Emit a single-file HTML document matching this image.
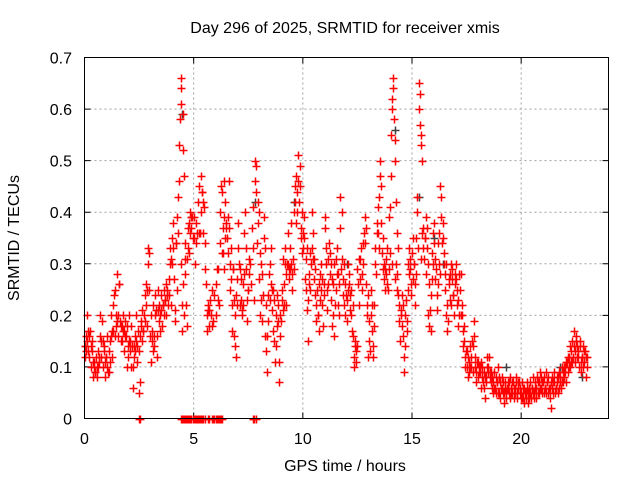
<!DOCTYPE html>
<html><head><meta charset="utf-8"><style>
body{margin:0;background:#fff;}
svg{display:block;font-family:"Liberation Sans",sans-serif;}
</style></head><body>
<svg id="chart" width="640" height="480" viewBox="0 0 640 480" xmlns="http://www.w3.org/2000/svg">
<text x="345" y="33" font-size="16" text-anchor="middle">Day 296 of 2025, SRMTID for receiver xmis</text>
<g id="grid"></g>
<g id="ticks"></g>
<g id="marks"></g>
<rect x="84.5" y="57.5" width="524" height="361" fill="none" stroke="#000" stroke-width="1"/>
<text x="345" y="471" font-size="16" text-anchor="middle">GPS time / hours</text>
<text transform="translate(19,238) rotate(-90)" font-size="16" text-anchor="middle">SRMTID / TECUs</text>
</svg>
<script>
const xTicks = [0, 5, 10, 15, 20];
const yTicks = [0, 0.1, 0.2, 0.3, 0.4, 0.5, 0.6, 0.7];
const yTickLabels = ["0", "0.1", "0.2", "0.3", "0.4", "0.5", "0.6", "0.7"];
const hours = [
0.0,0.1,0.2,0.3,0.4,0.5,0.6,0.7,0.8,0.9,
1.0,1.1,1.2,1.3,1.4,1.5,1.6,1.7,1.8,1.9,
2.0,2.1,2.2,2.3,2.4,2.5,2.6,2.7,2.8,2.9,
3.0,3.1,3.2,3.3,3.4,3.5,3.6,3.7,3.8,3.9,
4.0,4.1,4.2,4.3,4.4,4.5,4.6,4.7,4.8,4.9,
5.0,5.1,5.2,5.3,5.4,5.5,5.6,5.7,5.8,5.9,
6.0,6.1,6.2,6.3,6.4,6.5,6.6,6.7,6.8,6.9,
7.0,7.1,7.2,7.3,7.4,7.5,7.6,7.7,7.8,7.9,
8.0,8.1,8.2,8.3,8.4,8.5,8.6,8.7,8.8,8.9,
9.0,9.1,9.2,9.3,9.4,9.5,9.6,9.7,9.8,9.9,
10.0,10.1,10.2,10.3,10.4,10.5,10.6,10.7,10.8,10.9,
11.0,11.1,11.2,11.3,11.4,11.5,11.6,11.7,11.8,11.9,
12.0,12.1,12.2,12.3,12.4,12.5,12.6,12.7,12.8,12.9,
13.0,13.1,13.2,13.3,13.4,13.5,13.6,13.7,13.8,13.9,
14.0,14.1,14.2,14.3,14.4,14.5,14.6,14.7,14.8,14.9,
15.0,15.1,15.2,15.3,15.4,15.5,15.6,15.7,15.8,15.9,
16.0,16.1,16.2,16.3,16.4,16.5,16.6,16.7,16.8,16.9,
17.0,17.1,17.2,17.3,17.4,17.5,17.6,17.7,17.8,17.9,
18.0,18.1,18.2,18.3,18.4,18.5,18.6,18.7,18.8,18.9,
19.0,19.1,19.2,19.3,19.4,19.5,19.6,19.7,19.8,19.9,
20.0,20.1,20.2,20.3,20.4,20.5,20.6,20.7,20.8,20.9,
21.0,21.1,21.2,21.3,21.4,21.5,21.6,21.7,21.8,21.9,
22.0,22.1,22.2,22.3,22.4,22.5,22.6,22.7,22.8,22.9,23.0];
const values = [
[.12,.14,.16,.13],[.15,.2,.13,.17],[.16,.12,.17,.14],[.1,.15,.13,.11],[.08,.11,.1,.09],[.09,.12,.08,.1],[.1,.13,.11,.12],[.16,.2,.12,.15],[.19,.1,.15,.13],[.14,.08,.11,.12],
[.12,.1,.16,.09],[.13,.09,.15,.11],[.16,.2,.12,.17],[.17,.22,.24,.16],[.25,.2,.18,.19],[.28,.2,.16,.26],[.26,.19,.15,.18],[.18,.15,.2,.17],[.17,.13,.19,.16],[.16,.1,.18,.14],
[.12,.15,.2,.13],[.15,.1,.18,.14],[.06,.1,.14,.12],[.13,.16,.2,.15],[.14,.11,.17,.13],[.05,.07,.16,.19],[.18,.15,.21,.17],[.17,.2,.24,.19],[.26,.22,.18,.25],[.3,.33,.25,.32],
[.16,.11,.2,.17],[.15,.13,.22,.16],[.14,.2,.24,.21],[.16,.12,.25,.21],[.19,.22,.17,.2],[.21,.24,.18,.22],[.22,.2,.25,.23],[.23,.26,.2,.24],[.25,.22,.27,.24],[.3,.33,.22,.31],
[.3,.35,.38,.33],[.27,.21,.19,.34],[.34,.39,.25,.36],[.43,.46,.53,.58,.61,.3],[.64,.66,.17,.22,.26],[.59,.52,.47,.2,.28],[.34,.31,.22,.18],[.31,.33,.37,.32],[.38,.4,.36,.39],[.37,.39,.35],
[.35,.39,.3],[.34,.38,.36],[.42,.45,.36,.36],[.36,.47,.4,.44],[.44,.42,.36,.41],[.34,.29,.26],[.2,.17,.22,.21],[.21,.18,.23],[.2,.25,.18],[.19,.24],
[.2,.26,.29],[.23,.29,.22],[.34,.4,.45,.32],[.44,.37,.32,.29,.46],[.39,.35,.42,.37],[.38,.35,.32,.39],[.46,.37,.3,.25],[.33,.27,.22,.17,.29],[.29,.23,.16,.14],[.2,.12,.24,.22],
[.27,.33,.38,.3],[.29,.22,.27,.23],[.21,.2,.26,.22],[.28,.36,.4,.33],[.29,.23,.19,.25],[.25,.31,.28],[.3,.26,.37],[.41,.33,.23],[.46,.5,.44,.49],[.34,.38,.42,.4],
[.27,.32,.2,.3],[.23,.19,.28,.24],[.35,.39,.16,.33],[.22,.13,.09,.16],[.19,.24,.28,.23],[.3,.33,.26,.25],[.21,.25,.17,.23],[.15,.11,.2,.14],[.18,.24,.22,.19],[.11,.07,.16,.2],
[.19,.23,.25,.21],[.31,.26,.22,.3],[.33,.28,.22,.3],[.36,.3,.27,.29],[.29,.33,.38,.3],[.25,.28,.31,.29],[.4,.42,.45,.38],[.47,.44,.4,.46],[.51,.42,.45,.49],[.35,.37,.32,.4],
[.36,.33,.39,.35],[.27,.31,.25,.33],[.21,.15,.23,.26],[.28,.32,.25,.3],[.33,.4,.36,.31],[.31,.27,.24,.29],[.22,.19,.25,.2],[.2,.17,.26,.23],[.28,.25,.3,.27],[.22,.18,.24,.26],
[.37,.39,.3,.33],[.25,.21,.26,.31],[.34,.32,.28,.3],[.23,.18,.27,.26],[.2,.16,.3,.22],[.25,.31,.33,.28],[.28,.22,.2,.26],[.37,.43,.29,.4],[.31,.27,.24,.3],[.22,.26,.2,.24],
[.23,.19,.3,.25],[.28,.26,.21,.24],[.25,.2,.17,.22],[.16,.12,.1,.14],[.15,.13,.11,.14],[.29,.26,.22,.31],[.31,.27,.33],[.28,.25,.3,.34],[.36,.39,.34,.37],[.26,.2,.22,.24],
[.12,.15,.19,.13],[.2,.25,.17,.22],[.14,.12,.22,.18],[.3,.33,.28,.36],[.38,.36,.41,.33],[.43,.47,.5,.45],[.38,.32,.29,.35],[.3,.27,.25,.29],[.28,.31,.33,.26],[.25,.29,.39,.32],
[.41,.47,.55,.6,.3],[.62,.66,.64,.58,.27],[.54,.5,.3,.42,.36],[.25,.28,.33,.24],[.22,.19,.15,.21],[.2,.24,.18,.22],[.16,.12,.09,.14],[.2,.23,.17,.19],[.25,.3,.33,.28],[.29,.31,.26,.24],
[.32,.35,.27,.3],[.3,.22,.26,.28],[.35,.4,.43,.33],[.6,.65,.63,.57,.31],[.53,.55,.5,.36],[.33,.37,.31,.35],[.35,.39,.28,.37],[.33,.3,.2,.26],[.18,.21,.17,.24],[.27,.32,.36,.3],
[.38,.34,.27,.31],[.29,.24,.21,.26],[.34,.36,.3,.28],[.45,.43,.39,.34],[.35,.38,.32,.3],[.28,.25,.2,.3],[.17,.22,.19,.27],[.26,.23,.28,.3],[.22,.27,.29,.24],[.24,.2,.26,.28],
[.3,.27,.22,.25],[.23,.18,.28,.2],[.25,.28,.2,.22],[.2,.17,.14,.18],[.15,.12,.1,.13],[.13,.1,.08,.12],[.11,.09,.14,.1],[.12,.1,.15,.09],[.14,.19,.16,.1],[.12,.09,.07,.11],
[.11,.08,.1,.09],[.09,.1,.06,.11],[.08,.1,.07,.09],[.06,.04,.08,.07],[.08,.1,.12,.09],[.1,.12,.09,.08],[.07,.09,.06,.08],[.07,.05,.09,.06],[.06,.08,.05,.07],[.07,.1,.05,.08],
[.05,.07,.04,.06],[.06,.08,.05,.07],[.05,.03,.07,.06],[.05,.04,.06,.07],[.06,.05,.07,.08],[.04,.06,.05,.07],[.05,.07,.04,.06],[.06,.05,.08,.07],[.05,.04,.06,.07],[.07,.05,.06,.04],
[.05,.07,.04,.06],[.04,.06,.03,.05],[.05,.04,.07,.06],[.03,.05,.06,.04],[.05,.07,.04,.06],[.06,.05,.08,.04],[.05,.07,.06,.04],[.06,.08,.05,.07],[.07,.05,.09,.06],[.06,.08,.05,.07],
[.07,.05,.08,.06],[.06,.09,.05,.07],[.07,.05,.08,.06],[.04,.06,.02,.07],[.06,.08,.05,.07],[.07,.09,.05,.06],[.06,.08,.07,.05],[.08,.06,.09,.07],[.08,.06,.1,.07],[.09,.07,.1,.08],
[.1,.09,.07,.11],[.11,.09,.12,.1],[.12,.1,.14,.11],[.13,.11,.15,.12],[.14,.17,.11,.13],[.15,.16,.12,.14],[.13,.12,.1,.15],[.14,.11,.09,.12],[.12,.1,.14,.13],[.11,.13,.08,.12],[.12,.1]];
const zeroHours = [2.48,2.56,4.4,4.45,4.5,4.55,4.6,4.65,4.7,4.75,4.8,4.85,4.9,4.95,5.0,5.05,5.1,5.15,5.2,5.25,5.3,5.35,5.4,5.45,5.5,5.65,5.72,5.85,5.9,5.95,6.0,6.05,6.1,6.15,6.2,6.25,6.3,7.72,7.78,7.84];
const darkHours = [0.0,4.45,4.9,7.8,9.6,15.3,16.0,16.4,19.3,21.8,22.8,12.0,14.2];
const darkValues = [.14,.59,.39,.42,.42,.43,.35,.3,.1,.1,.08,.3,.56];

const X0=84.5, X1=608.5, Y0=418.5, Y1=57.5;
const xs = h => X0 + (h/24)*(X1-X0);
const ys = v => Y0 - (v/0.7)*(Y0-Y1);
const NS="http://www.w3.org/2000/svg";
const grid=document.getElementById('grid'), ticks=document.getElementById('ticks'), marks=document.getElementById('marks');
function mk(tag, attrs, parent){const e=document.createElementNS(NS,tag);for(const k in attrs)e.setAttribute(k,attrs[k]);parent.appendChild(e);return e;}

xTicks.forEach(t=>{
  const x=xs(t);
  if(t>0){const g=mk('line',{x1:x,x2:x,y1:Y1,y2:Y0,stroke:'#a0a0a0','stroke-dasharray':'2,3'},grid);
  
  }
  const tk=mk('path',{d:`M${x},${Y0}v-6M${x},${Y1}v6`,stroke:'#000'},ticks);
  
  
  const lb=mk('text',{x:x,y:444,'font-size':16,'text-anchor':'middle'},ticks);
  lb.textContent=String(t);
  
  
});
yTicks.forEach((t,i)=>{
  const y=ys(t);
  if(t>0&&t<0.7){const g=mk('line',{x1:X0,x2:X1,y1:y,y2:y,stroke:'#a0a0a0','stroke-dasharray':'2,3'},grid);
  
  }
  const tk=mk('path',{d:`M${X0},${y}h6M${X1},${y}h-6`,stroke:'#000'},ticks);
  
  
  const lb=mk('text',{x:72,y:y+6,'font-size':16,'text-anchor':'end'},ticks);
  lb.textContent=yTickLabels[i];
  
  
});
function plus(h,v,color){
  const x=Math.round(xs(h))+0.5, y=Math.round(ys(v))+0.5;
  const p=mk('path',{d:`M${x-4},${y}h8M${x},${y-4}v8`,stroke:color,'stroke-width':1.5},marks);
  
  
}
darkHours.forEach((h,i)=>plus(h,darkValues[i],'#404040'));
hours.forEach((h,i)=>{ values[i].forEach((v,k)=>plus(h + k*0.025, v, '#ff0000')); });
zeroHours.forEach(h=>plus(h,0,'#ff0000'));
</script>
</body></html>
